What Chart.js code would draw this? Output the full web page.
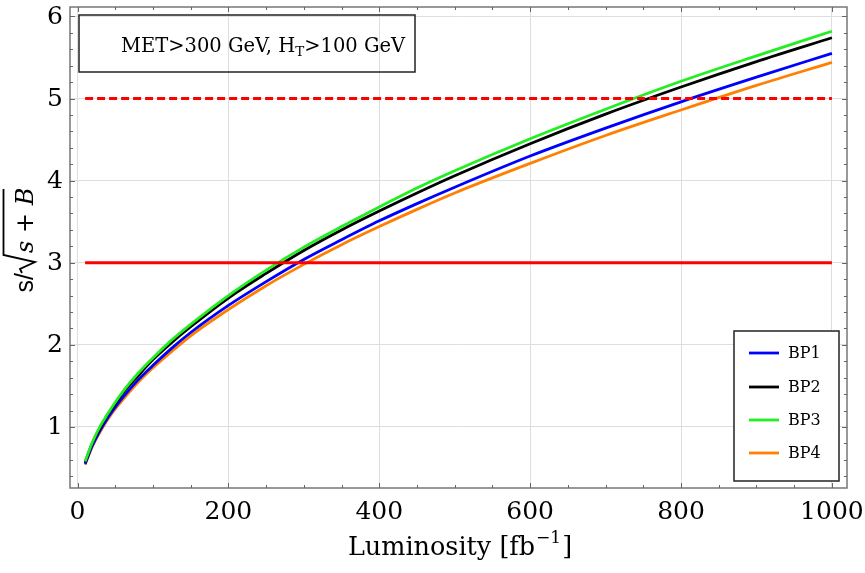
<!DOCTYPE html>
<html><head><meta charset="utf-8">
<script src="https://cdn.jsdelivr.net/npm/chart.js@4/dist/chart.umd.min.js"></script>
<style>html,body{margin:0;padding:0;background:#fff}#wrap{width:865px;height:573px}</style>
</head><body><div id="wrap"><canvas id="c" width="865" height="573"></canvas></div>
<script>
// Luminosity samples [fb^-1]
const lumi = [10,20,30,40,50,60,80,100,125,150,200,250,300,350,400,450,500,600,700,800,900,1000];
// s/sqrt(s+B)
const bp1 = [0.55,0.78,0.96,1.11,1.24,1.36,1.57,1.75,1.96,2.15,2.48,2.77,3.04,3.28,3.51,3.72,3.92,4.30,4.64,4.96,5.26,5.55];
const bp2 = [0.57,0.81,0.99,1.15,1.28,1.41,1.62,1.82,2.03,2.22,2.57,2.87,3.15,3.40,3.63,3.85,4.06,4.45,4.81,5.14,5.45,5.74];
const bp3 = [0.58,0.82,1.01,1.16,1.30,1.43,1.65,1.84,2.06,2.25,2.60,2.91,3.19,3.44,3.68,3.91,4.12,4.51,4.87,5.21,5.52,5.82];
const bp4 = [0.54,0.77,0.94,1.09,1.22,1.33,1.54,1.72,1.92,2.11,2.43,2.72,2.98,3.22,3.44,3.65,3.85,4.21,4.55,4.86,5.16,5.44];
const seriesNames = ['BP1','BP2','BP3','BP4'];
const seriesColors = ['#0000ff','#000000','#22ee22','#ff8000'];
const thresholdRange = [10,1000];
const threshold3 = 3;
const threshold5 = 5;
const xTicks = [0,200,400,600,800,1000];
const xTickLabels = ['0','200','400','600','800','1000'];
const yTicks = [1,2,3,4,5,6];
const yTickLabels = ['1','2','3','4','5','6'];
const xMinor = [50,100,150,250,300,350,450,500,550,650,700,750,850,900,950];
const yMinor = [0.4,0.6,0.8,1.2,1.4,1.6,1.8,2.2,2.4,2.6,2.8,3.2,3.4,3.6,3.8,4.2,4.4,4.6,4.8,5.2,5.4,5.6,5.8];
const boxText = ['MET>300 GeV, H','T','>100 GeV'];
const xTitle = ['Luminosity [fb','\u22121',']'];

const toXY = arr => arr.map((v,i)=>({x:lumi[i], y:v}));
const datasets = [
  {label:'5sigma', data:thresholdRange.map(x=>({x, y:threshold5})), borderColor:'#ff0000', borderWidth:3, borderDash:[8,4], pointRadius:0, order:0},
  {label:'3sigma', data:thresholdRange.map(x=>({x, y:threshold3})), borderColor:'#ff0000', borderWidth:3, pointRadius:0, order:1},
];
[bp1,bp2,bp3,bp4].forEach((arr,i)=>{
  datasets.push({label:seriesNames[i], data:toXY(arr), borderColor:seriesColors[i], borderWidth:2.8, pointRadius:0,
    cubicInterpolationMode:'monotone', order:[5,4,2,6][i]});
});

const serif = '"DejaVu Serif", serif';
const decor = {
  id:'decor',
  afterDatasetsDraw(chart){
    const ctx = chart.ctx, xs = chart.scales.x, ys = chart.scales.y, a = chart.chartArea;
    ctx.save();
    // frame
    ctx.strokeStyle='#777'; ctx.lineWidth=1.5; ctx.strokeRect(a.left,a.top,a.right-a.left,a.bottom-a.top);
    // inside tick marks on all four sides
    ctx.strokeStyle = '#666'; ctx.lineWidth = 1;
    const tickX = (v, len) => { const p = Math.round(xs.getPixelForValue(v))+0.5;
      ctx.beginPath(); ctx.moveTo(p,a.bottom); ctx.lineTo(p,a.bottom-len); ctx.moveTo(p,a.top); ctx.lineTo(p,a.top+len); ctx.stroke(); };
    const tickY = (v, len) => { const p = Math.round(ys.getPixelForValue(v))+0.5;
      ctx.beginPath(); ctx.moveTo(a.left,p); ctx.lineTo(a.left+len,p); ctx.moveTo(a.right,p); ctx.lineTo(a.right-len,p); ctx.stroke(); };
    xTicks.forEach(v=>tickX(v,5)); xMinor.forEach(v=>tickX(v,3));
    yTicks.forEach(v=>tickY(v,5)); yMinor.forEach(v=>tickY(v,3));

    // tick labels
    ctx.fillStyle = '#000';
    ctx.font = '25px ' + serif;
    ctx.textAlign = 'center'; ctx.textBaseline = 'alphabetic';
    xTicks.forEach((v,i)=>ctx.fillText(xTickLabels[i], xs.getPixelForValue(v), a.bottom + 31));
    ctx.textAlign = 'right'; ctx.textBaseline = 'middle';
    yTicks.forEach((v,i)=>ctx.fillText(yTickLabels[i], a.left - 7, ys.getPixelForValue(v) + 1));

    // annotation box
    ctx.strokeStyle = '#222'; ctx.lineWidth = 1.5;
    ctx.strokeRect(79, 15, 336, 57);
    ctx.fillStyle = '#000'; ctx.textBaseline = 'alphabetic'; ctx.textAlign = 'left';
    let x = 121; const by = 52;
    ctx.font = '19.5px ' + serif; ctx.fillText(boxText[0], x, by); x += ctx.measureText(boxText[0]).width;
    ctx.font = '13.5px ' + serif; ctx.fillText(boxText[1], x, by+4); x += ctx.measureText(boxText[1]).width;
    ctx.font = '19.5px ' + serif; ctx.fillText(boxText[2], x, by);

    // legend
    ctx.fillStyle = '#fff'; ctx.fillRect(734, 331, 105, 150);
    ctx.strokeStyle = '#222'; ctx.lineWidth = 1.5; ctx.strokeRect(734, 331, 105, 150);
    const ly = [353, 387, 420, 453];
    ctx.font = '16px ' + serif; ctx.textBaseline = 'middle';
    seriesNames.forEach((n,i)=>{
      ctx.strokeStyle = seriesColors[i]; ctx.lineWidth = 2.8;
      ctx.beginPath(); ctx.moveTo(749, ly[i]); ctx.lineTo(779, ly[i]); ctx.stroke();
      ctx.fillStyle = '#000'; ctx.fillText(n, 788, ly[i]+1);
    });

    // x title
    ctx.textBaseline = 'alphabetic';
    ctx.font = '25.5px ' + serif;
    const w0 = ctx.measureText(xTitle[0]).width, w2 = ctx.measureText(xTitle[2]).width;
    ctx.font = '17px ' + serif; const w1 = ctx.measureText(xTitle[1]).width;
    let tx = 459 - (w0+w1+w2)/2;
    ctx.font = '25.5px ' + serif; ctx.fillText(xTitle[0], tx, 555); tx += w0;
    ctx.font = '17px ' + serif; ctx.fillText(xTitle[1], tx+1, 543); tx += w1+2;
    ctx.font = '25.5px ' + serif; ctx.fillText(xTitle[2], tx, 555);

    // y title: s/ sqrt(s + B)
    ctx.translate(33, 0); ctx.rotate(-Math.PI/2);
    ctx.fillStyle = '#000';
    ctx.font = '25px "Liberation Sans", sans-serif';
    const sw = ctx.measureText('s/').width;
    ctx.fillText('s/', -273 - sw, 0);
    ctx.strokeStyle = '#000'; ctx.lineWidth = 1.8; ctx.lineJoin = 'miter';
    ctx.beginPath();
    ctx.moveTo(-273, -11); ctx.lineTo(-269, -13); ctx.lineTo(-262, 2); ctx.lineTo(-255, -29.5); ctx.lineTo(-189, -29.5);
    ctx.stroke();
    ctx.font = 'italic 24px ' + serif;
    ctx.fillText('s + B', -253, 0);
    ctx.restore();
  }
};

new Chart(document.getElementById('c'), {
  type:'line',
  data:{datasets},
  options:{
    responsive:false, animation:false,
    layout:{padding:{left:0,right:18,top:7,bottom:0}},
    plugins:{legend:{display:false}, tooltip:{enabled:false}},
    scales:{
      x:{type:'linear', min:-10, max:1020,
        afterBuildTicks:s=>{s.ticks = xTicks.map(v=>({value:v}));},
        afterFit:s=>{s.height = 85;},
        ticks:{display:false},
        grid:{color:'#dedede', lineWidth:1, drawTicks:false},
        border:{display:false}},
      y:{type:'linear', min:0.256, max:6.115,
        afterBuildTicks:s=>{s.ticks = yTicks.map(v=>({value:v}));},
        afterFit:s=>{s.width = 70;},
        ticks:{display:false},
        grid:{color:'#dedede', lineWidth:1, drawTicks:false},
        border:{display:false}}
    }
  },
  plugins:[decor]
});
</script></body></html>
